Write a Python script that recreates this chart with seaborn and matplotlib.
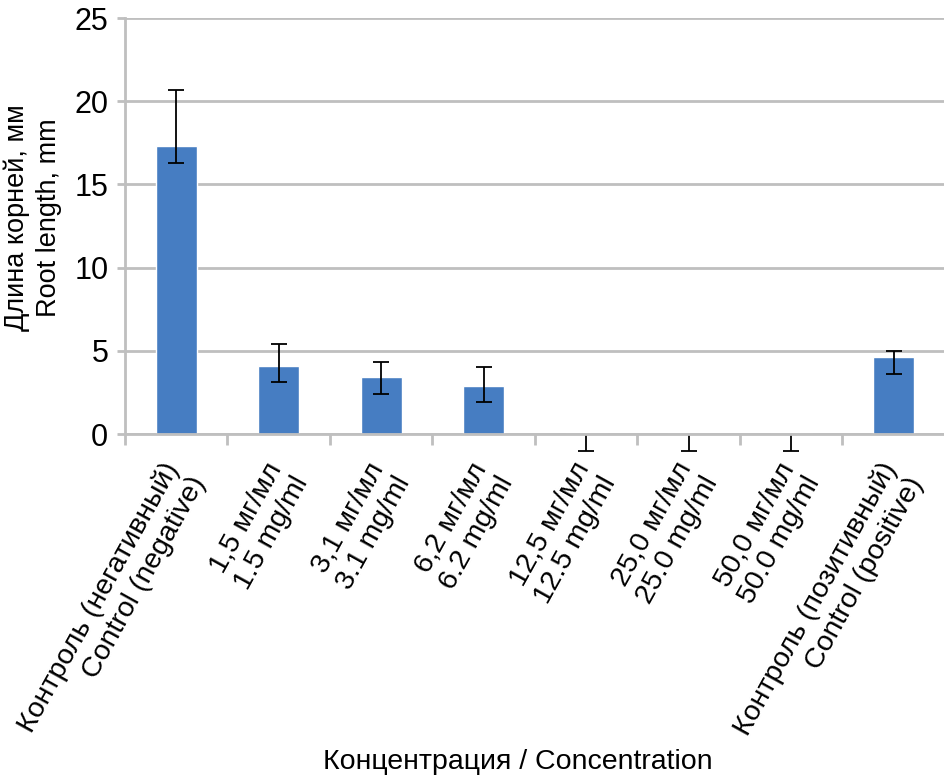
"""
Root length by concentration - bar chart with error bars
"""

import numpy as np
import pandas as pd
import matplotlib
matplotlib.use('Agg')
import matplotlib.pyplot as plt
import matplotlib.transforms as mtransforms
import seaborn as sns

# Data
categories = ['Контроль (негативный)\nControl (negative)',
              '1,5 мг/мл\n1.5 mg/ml',
              '3,1 мг/мл\n3.1 mg/ml',
              '6,2 мг/мл\n6.2 mg/ml',
              '12,5 мг/мл\n12.5 mg/ml',
              '25,0 мг/мл\n25.0 mg/ml',
              '50,0 мг/мл\n50.0 mg/ml',
              'Контроль (позитивный)\nControl (positive)']
root_length = [17.3, 4.1, 3.4, 2.9, 0.0, 0.0, 0.0, 4.6]
err_lower = [1.0, 1.0, 1.0, 1.0, 1.0, 1.0, 1.0, 1.0]
err_upper = [3.4, 1.3, 0.9, 1.1, 0.0, 0.0, 0.0, 0.4]
y_ticks = [0, 5, 10, 15, 20, 25]

sns.set_style('white')
plt.rcParams['font.family'] = ['Liberation Sans', 'DejaVu Sans']
plt.rcParams['text.color'] = 'black'
plt.rcParams['axes.labelcolor'] = 'black'
plt.rcParams['xtick.color'] = 'black'
plt.rcParams['ytick.color'] = 'black'

df = pd.DataFrame({'Concentration': categories, 'Root length': root_length})

fig = plt.figure(figsize=(9.45, 7.8), dpi=100)
ax = fig.add_axes([125 / 945, 1 - 434 / 780, 820 / 945, 416 / 780])

sns.barplot(data=df, x='Concentration', y='Root length', color='#467DC2',
            saturation=1, width=0.4, ax=ax, zorder=2)

# error bars: whiskers, then caps only where an error exists
x_pos = np.arange(len(categories))
vals = np.array(root_length)
lo = vals - np.array(err_lower)
hi = vals + np.array(err_upper)
ax.vlines(x_pos, lo, hi, color='black', linewidth=1.3, zorder=3, clip_on=False)
ax.plot(x_pos, lo, linestyle='none', marker='_', markersize=11, markeredgewidth=1.3,
        color='black', zorder=3, clip_on=False)
has_up = np.array(err_upper) > 0
ax.plot(x_pos[has_up], hi[has_up], linestyle='none', marker='_', markersize=11,
        markeredgewidth=1.3, color='black', zorder=3, clip_on=False)

ax.set_xlim(-0.5, len(categories) - 0.5)
ax.set_ylim(0, 25)
ax.set_yticks(y_ticks)
ax.set_yticklabels([str(t) for t in y_ticks], fontsize=22)
ax.yaxis.grid(True, color='#BFBFBF', linewidth=2, zorder=0)
ax.set_axisbelow(True)

for s in ['top', 'right']:
    ax.spines[s].set_visible(False)
for s in ['left', 'bottom']:
    ax.spines[s].set_color('#BFBFBF')
    ax.spines[s].set_linewidth(2)
    ax.spines[s].set_zorder(4)

ax.tick_params(axis='y', length=6, width=2, color='#BFBFBF', pad=6, left=True)
ax.set_xticks(np.arange(len(categories) + 1) - 0.5, minor=True)
ax.tick_params(axis='x', which='minor', length=8, width=2, color='#BFBFBF', bottom=True)
ax.tick_params(axis='x', which='major', length=0, pad=27)
ax.set_xticks(range(len(categories)))
ax.set_xticklabels(categories, rotation=61, ha='right', va='center',
                   rotation_mode='anchor', fontsize=20.5, linespacing=1.2)
offset = mtransforms.ScaledTranslation(10 / 100, 0, fig.dpi_scale_trans)
for lbl in ax.get_xticklabels():
    lbl.set_transform(lbl.get_transform() + offset)

ax.set_xlabel('')
ax.set_ylabel('')
fig.text(33 / 945, 1 - 218 / 780, 'Длина корней, мм\nRoot length, mm', fontsize=19.5,
         rotation=90, ha='center', va='center', linespacing=1.32)
fig.text(518 / 945, 1 - 762 / 780, 'Концентрация / Concentration', fontsize=20.5,
         ha='center', va='center')

plt.savefig('out.png', dpi=100)
